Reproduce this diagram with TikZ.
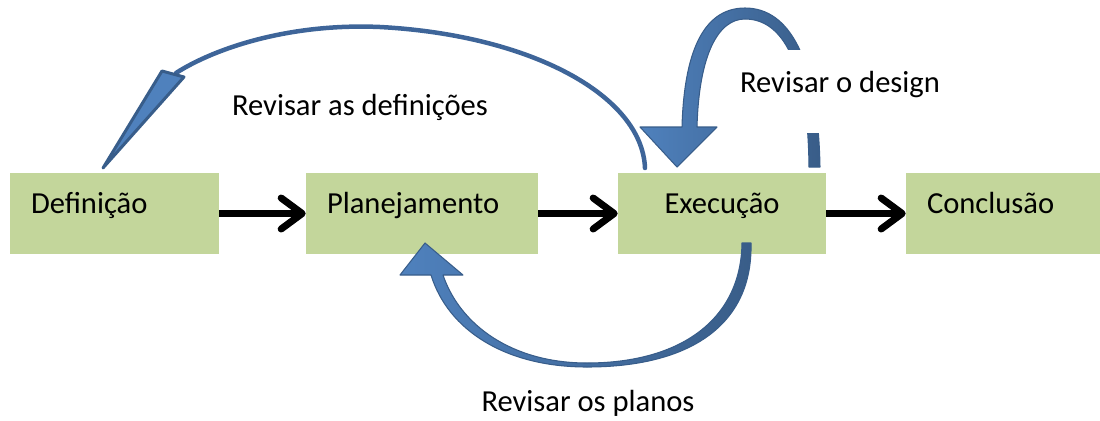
\documentclass[tikz,border=0pt]{standalone}
\usepackage{fontspec}
\setmainfont{Carlito}
\usepackage{tikz}
\usetikzlibrary{shapes,arrows,arrows.meta,positioning}
\definecolor{verdeetapa}{RGB}{195,214,155}
\definecolor{azul}{RGB}{79,129,189}
\definecolor{azulborda}{RGB}{56,93,138}
\definecolor{azullinha}{RGB}{62,101,153}

\begin{document}
\begin{tikzpicture}[x=0.02cm,y=-0.02cm,
  etapa/.style = {shape = rectangle, fill = verdeetapa, inner xsep = 0.42cm, inner ysep = 0pt, minimum height = 1.62cm, text height = 0.32cm, text depth = 0.32cm, align = left, font = \fontsize{17.4pt}{21pt}\selectfont},
  seta/.style = {line width = 0.14cm, -{Straight Barb[length=0.42cm,width=0.62cm,round]}},
  rotulo/.style = {font = \fontsize{17.4pt}{21pt}\selectfont, inner sep = 0pt, anchor = base},
  linha/.style = {draw = azullinha, line width = 0.09cm, line cap = round},
  curva/.style = {draw = azulborda, line width = 0.6pt, line join = round, left color = azul, right color = azul!72!black}]
\useasboundingbox (0,0) rectangle (1100,420);
\node[etapa, text width = 3.34cm] (0;0) at (114.5,213.5) {Definição};
  \node[etapa, text width = 3.80cm] (1;0) at (422,213.5) {Planejamento};
    \node[etapa, text width = 3.32cm, align = center] (2;0) at (722,213.5) {Execução};
      \node[etapa, text width = 3.24cm] (3;0) at (1008,213.5) {Conclusão};
\foreach \j in {0,1,2}
  { \pgfmathtruncatemacro{\k}{\j+1} \draw[seta] (\j;0.east) -- (\k;0.west); }
% voltar as definicoes
\draw[linha] (645,168) .. controls (642,95) and (530,35) .. (380,27) .. controls (290,23) and (215,48) .. (176,73);
\filldraw[fill = azul, draw = azulborda, line width = 0.06cm, line join = round] (162,71) -- (184,77) -- (103,168) -- cycle;
\node[rotulo] (r;0) at (360,115) {Revisar as definições};
% voltar o design
\path[curva] (820,167) .. controls (818,60) and (790,8) .. (745,8) .. controls (702,8) and (684,55) .. (682,127) -- (640,127) -- (677,167) -- (717,127) -- (697,127) .. controls (699,55) and (718,19) .. (745,19) .. controls (782,19) and (808,62) .. (809,167) -- cycle;
\node[rotulo, fill = white, inner xsep = 4pt, text height = 0.84cm, text depth = 0.82cm] (r;1) at (840,92) {Revisar o design};
% voltar os planos
\path[curva] (751,243) .. controls (753,325) and (690,367) .. (587,367) .. controls (505,367) and (448,330) .. (431,275) -- (400,275) -- (425,243) -- (463,275) -- (443,275) .. controls (460,325) and (512,363) .. (587,363) .. controls (680,363) and (741,320) .. (742,243) -- cycle;
\node[rotulo] (r;2) at (588,411) {Revisar os planos};
\end{tikzpicture}
\end{document}
